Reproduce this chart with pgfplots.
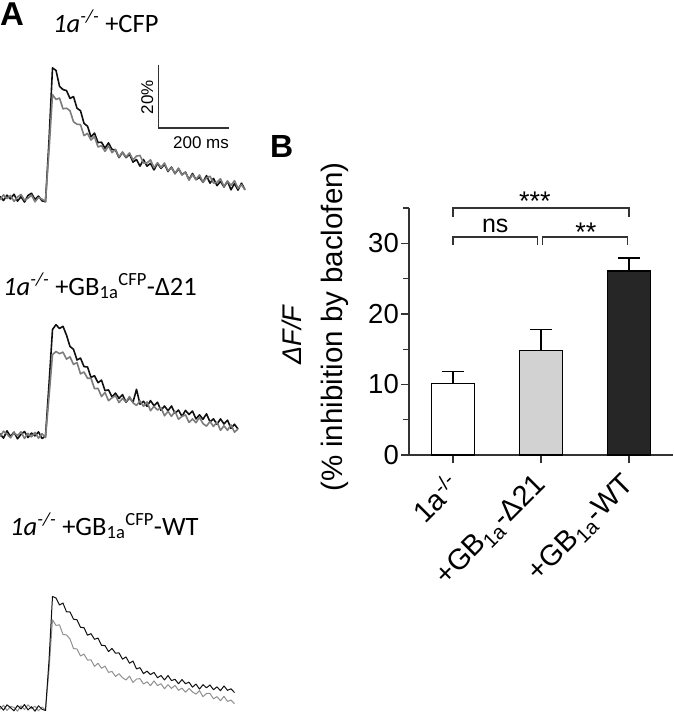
\documentclass[border=0pt]{standalone}
\usepackage{fontspec}
\setmainfont{Liberation Sans}
\newfontfamily\calibri{Carlito}
\usepackage{pgfplots}
\pgfplotsset{compat=1.18}
\definecolor{tgray}{HTML}{7C7C7C}
\definecolor{tblack}{HTML}{101010}
\definecolor{barlight}{HTML}{D2D2D2}
\definecolor{bardark}{HTML}{262626}
\definecolor{axgray}{HTML}{333333}
\pgfplotsset{trace/.style={at={(0pt,-#1)}, anchor=south west, scale only axis, width=245pt, height=152.775pt,
  xmin=0, xmax=700, ymin=-3.5, ymax=45, hide axis, clip=false}}
\begin{document}
\begin{tikzpicture}[x=1pt,y=1pt]
\useasboundingbox (0,0) rectangle (673,-720);
% ---------- Panel A ----------
\node[anchor=base west, inner sep=0, font=\bfseries\fontsize{33}{33}\selectfont] at (0,-25) {A};
\node[anchor=base west, inner sep=0, font=\calibri\fontsize{26.5}{26.5}\selectfont] at (53,-32) {\textit{1a}\textsuperscript{\textit{-/-}} +CFP};
\node[anchor=base west, inner sep=0, font=\calibri\fontsize{26.5}{26.5}\selectfont] at (3,-295) {\textit{1a}\textsuperscript{\textit{-/-}} +GB\textsubscript{1a}\textsuperscript{CFP}-Δ21};
\node[anchor=base west, inner sep=0, font=\calibri\fontsize{26.5}{26.5}\selectfont] at (10,-535) {\textit{1a}\textsuperscript{\textit{-/-}} +GB\textsubscript{1a}\textsuperscript{CFP}-WT};
\node[anchor=base, inner sep=0, font=\fontsize{17}{17}\selectfont] at (201,-148) {200 ms};
\node[rotate=90, anchor=base, inner sep=0, font=\fontsize{17}{17}\selectfont] at (153,-97) {20\%};

% trace 1
\begin{axis}[trace=209pt]
\addplot[tblack, line width=1.6pt, line join=round] coordinates {(0,0.5)(10,-0.8)(20,0.9)(30,-0.3)(40,1.2)(50,-1.0)(60,0.4)(70,-1.3)(80,0.8)(90,1.5)(100,-0.5)(110,0.6)(120,-0.9)(130,-1.2)(140,18)(150,41.3)(160,40.5)(170,35.5)(180,34.4)(190,34.1)(200,31.6)(210,32.2)(220,28.5)(230,27.7)(240,23.7)(250,22.8)(260,19.4)(270,20.6)(280,17.6)(290,17.7)(300,15.8)(310,17.5)(320,15.4)(330,15.3)(340,12.8)(350,14.5)(360,12.8)(370,13.9)(380,11.4)(390,12.2)(400,10.1)(410,12.2)(420,10.1)(430,11.0)(440,8.9)(450,11.0)(460,9.4)(470,10.7)(480,8.4)(490,9.8)(500,7.7)(510,9.3)(520,7.4)(530,8.2)(540,5.8)(550,7.8)(560,5.8)(570,6.6)(580,5.0)(590,7.1)(600,4.7)(610,6.2)(620,3.9)(630,5.3)(640,3.5)(650,5.3)(660,2.6)(670,4.6)(680,2.5)(690,4.7)(700,2.6)};
\addplot[tgray, line width=1.6pt, line join=round] coordinates {(0,-0.6)(10,1.0)(20,-0.2)(30,0.8)(40,-1.1)(50,0.3)(60,1.1)(70,-0.7)(80,-0.1)(90,0.9)(100,-1.2)(110,0.2)(120,-0.4)(130,-1.0)(140,15)(150,32.8)(160,31.3)(170,31.7)(180,28.3)(190,28.5)(200,27.7)(210,24.2)(220,23.4)(230,23.3)(240,19.8)(250,20.5)(260,18.4)(270,19.5)(280,16.2)(290,16.6)(300,14.8)(310,16.5)(320,14.4)(330,15.4)(340,13.0)(350,14.6)(360,13.0)(370,14.3)(380,12.1)(390,13.3)(400,13.5)(410,11.1)(420,11.1)(430,12.1)(440,9.6)(450,11.2)(460,9.7)(470,11.1)(480,8.6)(490,9.6)(500,7.8)(510,9.5)(520,7.3)(530,8.2)(540,5.7)(550,7.4)(560,5.9)(570,7.3)(580,5.0)(590,6.4)(600,6.9)(610,4.7)(620,5.0)(630,6.1)(640,3.7)(650,5.4)(660,4.0)(670,5.5)(680,3.1)(690,4.2)(700,2.6)};
\draw[line width=1.2pt, axgray] (axis cs:454,42.2) -- (axis cs:454,22.2) -- (axis cs:654,22.2);
\end{axis}

% trace 2
\begin{axis}[trace=446pt]
\addplot[tblack, line width=1.6pt, line join=round] coordinates {(0,0.4)(10,-1.0)(20,1.3)(30,-0.5)(40,0.9)(50,-1.2)(60,0.2)(70,1.1)(80,-0.8)(90,0.6)(100,-0.3)(110,1.0)(120,-1.1)(130,-0.4)(140,16)(150,33.5)(160,35.0)(170,33.8)(180,34.5)(190,31.7)(200,28.1)(210,27.2)(220,23.8)(230,24.4)(240,21.7)(250,21.6)(260,18.3)(270,18.8)(280,16.6)(290,17.4)(300,14.1)(310,14.3)(320,12.1)(330,13.3)(340,11.6)(350,12.8)(360,10.4)(370,11.8)(380,10.4)(390,14.5)(400,9.8)(410,10.7)(420,9.1)(430,10.9)(440,9.3)(450,10.4)(460,7.8)(470,9.2)(480,7.7)(490,9.2)(500,6.9)(510,7.9)(520,5.9)(530,7.8)(540,6.5)(550,7.6)(560,5.1)(570,6.4)(580,5.0)(590,6.7)(600,4.2)(610,5.1)(620,3.4)(630,5.1)(640,3.5)(650,4.7)(660,2.1)(670,3.4)(680,1.9)};
\addplot[tgray, line width=1.6pt, line join=round] coordinates {(0,-0.5)(10,1.2)(20,0.3)(30,-0.9)(40,0.7)(50,-0.2)(60,1.0)(70,-1.1)(80,0.5)(90,-0.6)(100,0.8)(110,-1.0)(120,0.4)(130,-0.8)(140,12)(150,25.5)(160,26.5)(170,25.8)(180,26.3)(190,24.1)(200,24.8)(210,22.4)(220,23.0)(230,19.4)(240,20.0)(250,18.0)(260,18.0)(270,14.7)(280,14.8)(290,12.2)(300,13.5)(310,10.9)(320,11.8)(330,12.5)(340,10.3)(350,11.6)(360,10.5)(370,12.2)(380,10.2)(390,9.4)(400,10.8)(410,9.1)(420,10.5)(430,7.7)(440,9.1)(450,7.9)(460,8.7)(470,6.1)(480,7.5)(490,5.9)(500,7.5)(510,5.0)(520,5.9)(530,6.4)(540,4.0)(550,5.1)(560,3.9)(570,5.6)(580,3.6)(590,2.8)(600,4.3)(610,2.7)(620,4.1)(630,1.5)(640,2.9)(650,1.5)(660,3.2)(670,0.9)(680,1.9)};
\end{axis}

% trace 3
\begin{axis}[trace=719pt]
\addplot[tgray!85, line width=1.0pt, line join=round] coordinates {(0,-0.4)(10,0.9)(20,-0.8)(30,0.5)(40,0.2)(50,-1.0)(60,0.7)(70,-0.5)(80,1.0)(90,-0.2)(100,0.6)(110,-0.9)(120,0.3)(130,-0.6)(140,12)(150,28)(160,26.2)(170,26.4)(180,23.3)(190,23.2)(200,21.9)(210,18.9)(220,18.7)(230,16.5)(240,17.1)(250,15.2)(260,15.3)(270,13.2)(280,14.2)(290,12.6)(300,13.3)(310,11.3)(320,11.6)(330,10.0)(340,10.9)(350,9.6)(360,8.9)(370,10.1)(380,8.1)(390,9.2)(400,9.3)(410,7.6)(420,8.3)(430,7.1)(440,8.6)(450,7.1)(460,7.7)(470,6.1)(480,7.4)(490,6.2)(500,7.2)(510,5.6)(520,6.3)(530,5.0)(540,6.2)(550,5.1)(560,4.4)(570,5.5)(580,3.6)(590,4.6)(600,4.6)(610,2.9)(620,3.6)(630,2.3)(640,3.7)(650,2.1)(660,2.5)(670,1.4)};
\addplot[tblack, line width=1.0pt, line join=round] coordinates {(0,0.6)(10,-0.7)(20,1.0)(30,0.1)(40,-0.9)(50,0.8)(60,-0.3)(70,1.1)(80,-0.6)(90,0.4)(100,-1.0)(110,0.7)(120,-0.4)(130,-0.8)(140,15)(150,35.4)(160,34.9)(170,32.7)(180,33.3)(190,30.5)(200,30.5)(210,28.2)(220,28.0)(230,25.6)(240,25.5)(250,23.1)(260,23.6)(270,21.8)(280,22.2)(290,19.9)(300,19.8)(310,17.9)(320,18.9)(330,17.4)(340,17.5)(350,15.5)(360,16.2)(370,14.2)(380,14.9)(390,12.4)(400,12.8)(410,10.9)(420,11.7)(430,10.6)(440,11.3)(450,9.6)(460,10.3)(470,8.9)(480,10.3)(490,8.7)(500,9.1)(510,7.7)(520,9.0)(530,7.7)(540,8.2)(550,6.6)(560,7.6)(570,6.0)(580,7.4)(590,6.4)(600,7.3)(610,5.8)(620,6.7)(630,5.5)(640,7.0)(650,5.6)(660,6.1)(670,4.9)};
\end{axis}

% ---------- Panel B ----------
\node[anchor=base west, inner sep=0, font=\bfseries\fontsize{32}{32}\selectfont] at (270,-157) {B};
\node[rotate=90, anchor=base, inner sep=0, font=\itshape\fontsize{27}{27}\selectfont] at (301,-335) {ΔF/F};
\node[rotate=90, anchor=base, inner sep=0, font=\fontsize{29.5}{29.5}\selectfont] at (342,-327) {(\% inhibition by baclofen)};

\begin{axis}[
  at={(409pt,-455pt)}, anchor=south west,
  scale only axis, width=264pt, height=247pt,
  xmin=-0.5, xmax=2.5, ymin=0, ymax=35,
  axis x line*=bottom, axis y line*=left,
  axis line style={line width=1.5pt, axgray},
  xtick={0,1,2},
  xticklabels={1a\textsuperscript{-/-}, +GB\textsubscript{1a}-Δ21, +GB\textsubscript{1a}-WT},
  ytick={0,10,20,30}, minor ytick={5,15,25,35},
  tick align=outside,
  major tick length=8pt, minor tick length=6pt,
  tick style={line width=1.3pt, axgray},
  yticklabel style={font=\fontsize{27.5}{27.5}\selectfont, inner sep=2pt},
  /pgf/number format/assume math mode=true,
  xticklabel style={font=\fontsize{29}{29}\selectfont, yshift=-8pt, xshift=-8pt, rotate=45, anchor=north east, inner sep=0pt},
  clip=false,
]
\addplot[ybar, bar width=43pt, bar shift=0pt, draw=black, line width=1.4pt, fill=white,
  error bars/.cd, y dir=plus, y explicit, error bar style={line width=1.4pt, black},
  error mark options={rotate=90, mark size=11pt, line width=1.4pt, black}]
  coordinates {(0,10.1) +- (0,1.7)};
\addplot[ybar, bar width=43pt, bar shift=0pt, draw=black, line width=1.4pt, fill=barlight,
  error bars/.cd, y dir=plus, y explicit, error bar style={line width=1.4pt, black},
  error mark options={rotate=90, mark size=11pt, line width=1.4pt, black}]
  coordinates {(1,14.8) +- (0,3.0)};
\addplot[ybar, bar width=43pt, bar shift=0pt, draw=black, line width=1.4pt, fill=bardark,
  error bars/.cd, y dir=plus, y explicit, error bar style={line width=1.4pt, black},
  error mark options={rotate=90, mark size=11pt, line width=1.4pt, black}]
  coordinates {(2,26.1) +- (0,1.8)};
\draw[line width=1.3pt, axgray] (axis cs:0,33.7) -- (axis cs:0,35) -- (axis cs:2,35) -- (axis cs:2,33.7);
\draw[line width=1.3pt, axgray] (axis cs:0,29.8) -- (axis cs:0,30.9) -- (axis cs:0.96,30.9) -- (axis cs:0.96,29.8);
\draw[line width=1.3pt, axgray] (axis cs:1.02,29.8) -- (axis cs:1.02,30.9) -- (axis cs:1.98,30.9) -- (axis cs:1.98,29.8);
\node[anchor=base, inner sep=0, font=\fontsize{27}{27}\selectfont] at (axis cs:0.93,34.6) {***};
\node[anchor=base, inner sep=0, font=\fontsize{25}{25}\selectfont] at (axis cs:0.48,31.6) {ns};
\node[anchor=base, inner sep=0, font=\fontsize{27}{27}\selectfont] at (axis cs:1.51,30.2) {**};
\end{axis}
\end{tikzpicture}
\end{document}
